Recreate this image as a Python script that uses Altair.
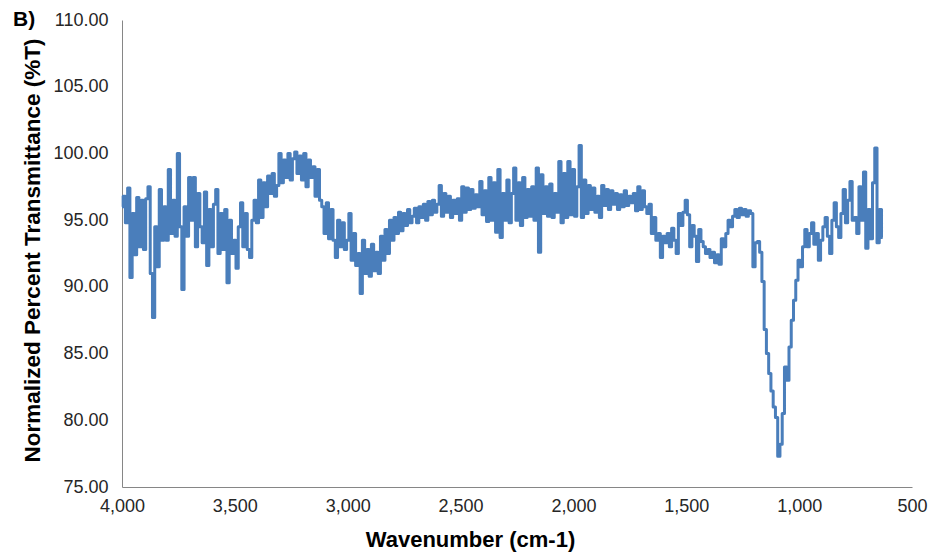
import altair as alt
import pandas as pd

# Wavenumber grid of the spectrum (cm-1), sampled every 10 cm-1 from 4000 down to 630
wavenumber = list(range(4000, 620, -10))

# Normalized %T, one row per 100 cm-1
t_4000 = [96.0, 96.8, 94.8, 97.4, 90.7, 95.5, 92.4, 96.7, 93.0, 96.5]
t_3900 = [92.8, 96.6, 97.5, 91.0, 87.7, 94.5, 91.5, 97.3, 93.5, 96.0]
t_3800 = [93.5, 98.8, 94.0, 96.5, 93.8, 100.0, 94.5, 89.8, 96.0, 93.8]
t_3700 = [98.2, 95.0, 98.2, 93.0, 97.0, 94.5, 93.3, 97.1, 91.6, 95.8]
t_3600 = [93.0, 96.2, 97.3, 92.5, 95.5, 92.8, 95.8, 90.3, 95.0, 92.5]
t_3500 = [93.5, 91.4, 94.5, 96.3, 93.0, 95.5, 92.8, 92.2, 95.0, 96.5]
t_3400 = [94.8, 98.0, 95.2, 97.8, 96.0, 98.3, 97.0, 98.5, 96.8, 97.6]
t_3300 = [100.0, 97.8, 99.5, 98.2, 100.0, 98.0, 99.6, 100.1, 98.5, 99.8]
t_3200 = [98.0, 100.0, 97.5, 99.5, 98.2, 99.0, 96.8, 98.8, 96.5, 96.0]
t_3100 = [94.0, 96.3, 93.6, 95.8, 93.5, 92.2, 95.0, 93.0, 94.8, 92.8]
t_3000 = [93.5, 95.5, 92.0, 94.0, 91.6, 92.5, 89.5, 93.5, 91.0, 92.8]
t_2900 = [90.8, 93.2, 91.2, 92.6, 91.0, 93.8, 92.0, 94.3, 92.5, 95.0]
t_2800 = [93.5, 95.2, 94.0, 95.6, 94.2, 95.5, 94.6, 95.8, 94.8, 95.3]
t_2700 = [95.9, 94.8, 96.0, 95.2, 96.2, 95.0, 96.4, 95.4, 96.5, 95.6]
t_2600 = [96.2, 97.6, 95.3, 97.0, 95.6, 96.8, 95.2, 96.5, 95.5, 96.6]
t_2500 = [95.0, 97.5, 95.6, 97.4, 95.8, 97.3, 95.9, 96.9, 96.0, 97.9]
t_2400 = [95.4, 97.2, 94.9, 98.2, 95.0, 97.8, 94.1, 98.8, 93.7, 97.0]
t_2300 = [95.0, 98.0, 94.8, 97.0, 98.9, 95.0, 97.8, 94.6, 98.2, 95.2]
t_2200 = [97.3, 95.3, 97.5, 95.0, 98.9, 92.6, 98.4, 95.5, 97.5, 95.3]
t_2100 = [97.7, 95.2, 97.0, 95.6, 99.4, 94.8, 98.5, 95.2, 99.4, 95.4]
t_2000 = [98.8, 95.3, 97.5, 100.6, 95.2, 98.0, 95.5, 97.6, 95.8, 97.4]
t_1900 = [95.6, 96.8, 95.2, 97.6, 96.1, 97.3, 95.8, 97.2, 96.2, 97.0]
t_1800 = [95.8, 96.9, 96.0, 97.2, 96.1, 96.8, 96.3, 97.0, 95.7, 97.5]
t_1700 = [95.8, 97.2, 96.0, 95.5, 96.2, 94.0, 95.2, 93.5, 94.0, 92.2]
t_1600 = [93.8, 93.3, 94.0, 93.0, 94.4, 93.5, 92.5, 95.5, 94.6, 95.6]
t_1500 = [96.5, 95.4, 93.0, 94.6, 93.8, 91.9, 94.3, 93.4, 93.0, 92.5]
t_1400 = [92.8, 92.2, 92.6, 91.8, 92.4, 91.7, 93.6, 93.0, 94.0, 95.0]
t_1300 = [94.5, 95.3, 95.8, 95.2, 95.9, 95.4, 95.8, 95.3, 95.7, 95.5]
t_1200 = [91.5, 93.3, 93.4, 92.6, 90.4, 86.8, 85.0, 83.5, 82.2, 81.0]
t_1100 = [80.2, 77.3, 78.2, 80.5, 84.0, 83.0, 85.5, 87.5, 89.0, 90.5]
t_1000 = [92.0, 91.5, 93.0, 94.3, 93.0, 94.0, 94.8, 93.2, 94.0, 92.0]
t_900 = [93.5, 94.5, 95.2, 93.8, 92.5, 95.0, 96.3, 94.5, 93.7, 95.5]
t_800 = [97.3, 94.8, 96.5, 97.9, 95.0, 95.2, 94.0, 97.5, 95.0, 98.6]
t_700 = [92.9, 95.8, 93.6, 97.8, 100.4, 93.3, 95.8, 93.7]

transmittance = (t_4000 + t_3900 + t_3800 + t_3700 + t_3600 + t_3500 + t_3400
                 + t_3300 + t_3200 + t_3100 + t_3000 + t_2900 + t_2800 + t_2700
                 + t_2600 + t_2500 + t_2400 + t_2300 + t_2200 + t_2100 + t_2000
                 + t_1900 + t_1800 + t_1700 + t_1600 + t_1500 + t_1400 + t_1300
                 + t_1200 + t_1100 + t_1000 + t_900 + t_800 + t_700)

x_ticks = [4000, 3500, 3000, 2500, 2000, 1500, 1000, 500]
y_ticks = [75, 80, 85, 90, 95, 100, 105, 110]
panel_label = ["B)"]

df = pd.DataFrame({"wn": wavenumber, "t": transmittance})

FONT = "Liberation Sans"

line = alt.Chart(df).mark_line(
    color="#4A7EBB", strokeWidth=3, interpolate="step", strokeJoin="round"
).encode(
    x=alt.X(
        "wn:Q",
        scale=alt.Scale(domain=[500, 4000], reverse=True, nice=False, zero=False),
        axis=alt.Axis(
            values=x_ticks, format=",.0f", ticks=False, grid=False,
            labelFlush=False, labelFont=FONT, labelFontSize=18, labelColor="#262626",
            labelPadding=10, domainColor="#868686", domainWidth=1,
            title="Wavenumber (cm-1)", titleFont=FONT, titleFontSize=22,
            titleFontWeight="bold", titleColor="#000000",
            titleX=348, titleY=59, titleBaseline="alphabetic", titleAnchor="start",
            titleAlign="center",
        ),
    ),
    y=alt.Y(
        "t:Q",
        scale=alt.Scale(domain=[75, 110], nice=False, zero=False),
        axis=alt.Axis(
            values=y_ticks, format=".2f", ticks=False, grid=False,
            labelFont=FONT, labelFontSize=18, labelColor="#262626",
            labelPadding=14, domainColor="#868686", domainWidth=1,
            title="Normalized Percent Transmittance (%T)", titleFont=FONT,
            titleFontSize=22.5, titleFontWeight="bold", titleColor="#000000",
            titleX=-83, titleY=230, titleAngle=270, titleBaseline="alphabetic",
            titleAlign="center", titleAnchor="start",
        ),
    ),
)

label = alt.Chart(pd.DataFrame({"lab": panel_label})).mark_text(
    font=FONT, fontSize=21, fontWeight="bold", align="left", baseline="middle",
    color="#000000",
).encode(text="lab:N", x=alt.value(-109), y=alt.value(0))

chart = alt.layer(line, label).properties(
    width=790,
    height=467,
    padding={"left": 122, "top": 20, "right": 25, "bottom": 69},
    autosize=alt.AutoSizeParams(type="none"),
    background="#ffffff",
).configure_view(stroke=None)

chart.save("out.html", embed_options={"renderer": "svg", "actions": False})
